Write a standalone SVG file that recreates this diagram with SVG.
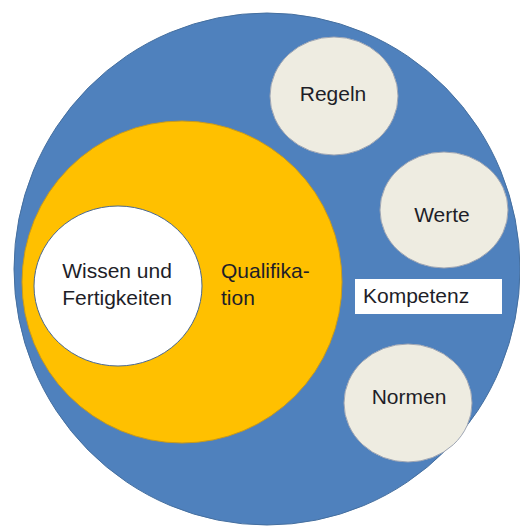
<svg xmlns="http://www.w3.org/2000/svg" width="520" height="529" viewBox="0 0 520 529">
<style>
text{font-family:"Liberation Sans",Arial,sans-serif;font-size:21px;fill:#1e1e28}
.sat{fill:#eeece1;stroke:#9fa6b4;stroke-width:1}
</style>
<rect width="520" height="529" fill="#ffffff"/>
<g id="kompetenz-circle">
<ellipse cx="267" cy="269" rx="253" ry="256" fill="#4f81bd" stroke="#456f9f" stroke-width="1"/>
</g>
<g id="qualifikation">
<ellipse cx="182" cy="282" rx="160" ry="161" fill="#ffc000" stroke="#c99a1a" stroke-width="1"/>
<text x="221" y="278">Qualifika-</text>
<text x="221" y="305">tion</text>
</g>
<g id="wissen">
<ellipse cx="118" cy="286" rx="84" ry="80" fill="#ffffff" stroke="#4a6890" stroke-width="1"/>
<text x="117" y="278" text-anchor="middle">Wissen und</text>
<text x="117" y="305" text-anchor="middle">Fertigkeiten</text>
</g>
<g id="regeln">
<ellipse class="sat" cx="334" cy="96" rx="64" ry="59"/>
<text x="333" y="101" text-anchor="middle">Regeln</text>
</g>
<g id="werte">
<ellipse class="sat" cx="444" cy="210" rx="64" ry="58"/>
<text x="442" y="222" text-anchor="middle">Werte</text>
</g>
<g id="normen">
<ellipse class="sat" cx="408" cy="403" rx="64" ry="59"/>
<text x="409" y="404" text-anchor="middle">Normen</text>
</g>
<g id="kompetenz-label">
<rect x="355" y="279" width="147" height="35" fill="#ffffff"/>
<text x="363" y="303">Kompetenz</text>
</g>
<g id="connectors"></g>
</svg>
